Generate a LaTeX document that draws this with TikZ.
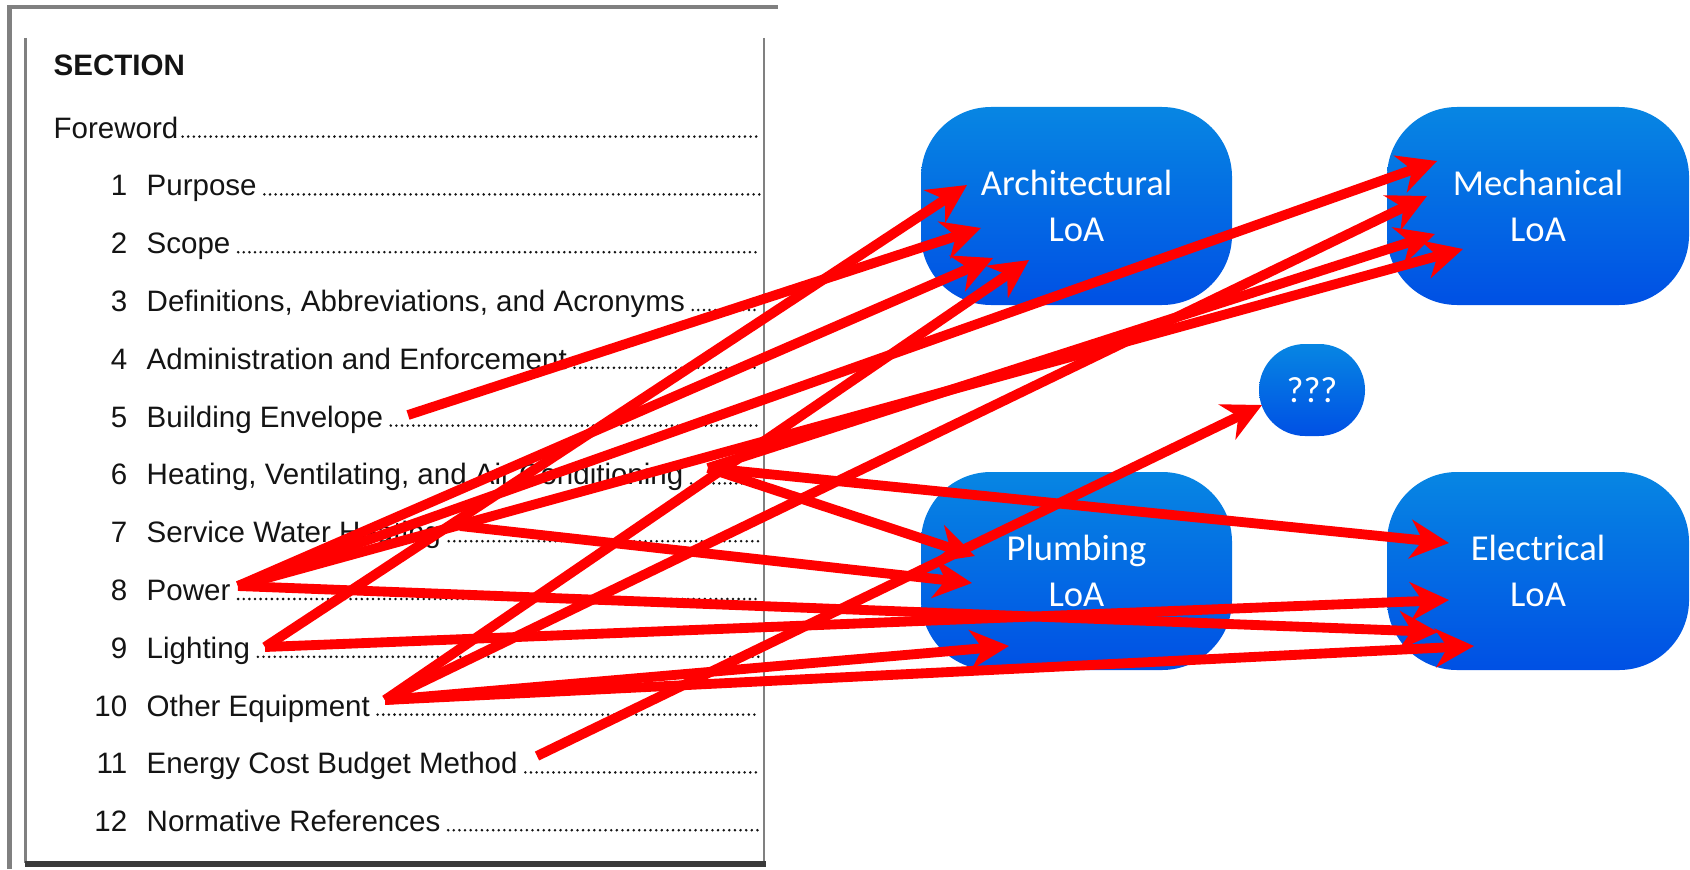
\documentclass[tikz,border=0pt]{standalone}
\usepackage{fontspec}
\setmainfont{Liberation Sans}
\newfontfamily\loafont{Carlito}
\usetikzlibrary{arrows.meta,calc}
\definecolor{loatop}{HTML}{0786E3}
\definecolor{loabot}{HTML}{0050E4}
\definecolor{mapred}{HTML}{FF0000}
\definecolor{pagegray}{HTML}{808080}
\definecolor{pageshade}{HTML}{3A3A3A}
\definecolor{inkgray}{HTML}{141414}
\tikzset{
  loa/.style={rounded corners=0.7cm,top color=loatop,bottom color=loabot,draw=none,text=white,align=center,font=\loafont\fontsize{10.4}{13}\selectfont,minimum height=1.98cm,inner sep=0pt},
  loaw/.style={loa,minimum width=3.11cm},
  loan/.style={loa,minimum width=3.02cm},
  toc/.style={anchor=base west,inner sep=0pt,text=inkgray,font=\fontsize{8.4}{10}\selectfont},
  tocnum/.style={toc,anchor=base east},
  leader/.style={draw=inkgray,line width=0.8pt,line cap=round,dash pattern=on 0pt off 1.6pt},
  map/.style={draw=mapred,line width=2.8pt,-{Stealth[length=11pt,width=11pt,inset=3.5pt]}},
}

\begin{document}
\begin{tikzpicture}
  \useasboundingbox (0,0) rectangle (16.90,-8.69);
  % page of the standard
  \draw[pagegray,line width=1.3pt] (0.095,-8.69) |- (7.78,-0.07);
  \draw[pagegray,line width=0.6pt] (0.255,-0.38) -- (0.255,-8.63);
  \draw[pagegray,line width=0.8pt] (7.64,-0.38) -- (7.64,-8.63);
  \fill[pageshade] (0.25,-8.61) rectangle (7.66,-8.67);
  \coordinate (rim) at (7.60,0);

  \node[toc,font=\fontsize{8.4}{10}\selectfont\bfseries] (sec) at (0.53,-0.76) {SECTION};
  \node[toc] (fw) at (0.53,-1.38) {Foreword};
  \draw[leader] ([xshift=1pt,yshift=0.4pt]fw.base east) -- ([yshift=0.4pt]fw.base east -| rim);
  \foreach \n/\t in {1/Purpose,2/Scope,3/{Definitions, Abbreviations, and Acronyms},4/Administration and Enforcement,
      5/Building Envelope,6/{Heating, Ventilating, and Air Conditioning},7/Service Water Heating,8/Power,9/Lighting,
      10/Other Equipment,11/Energy Cost Budget Method,12/Normative References}{
    \node[tocnum] (n\n) at (1.28,{-1.38-0.578*\n}) {\n};
    \node[toc] (t\n) at (1.46,{-1.38-0.578*\n}) {\t};
    \draw[leader] ([xshift=2pt,yshift=0.4pt]t\n.base east) -- ([yshift=0.4pt]t\n.base east -| rim);
  }

  % LoA boxes
  \node[loaw] (arch) at (10.765,-2.06) {Architectural\\LoA};
  \node[loan] (mech) at (15.38,-2.06) {Mechanical\\LoA};
  \node[loaw] (plumb) at (10.765,-5.71) {Plumbing\\LoA};
  \node[loan] (elec) at (15.38,-5.71) {Electrical\\LoA};
  \node[loa,minimum width=1.06cm,minimum height=0.92cm,rounded corners=0.46cm] (unk) at (13.12,-3.90) {???};

  % where the arrows leave the contents
  \coordinate (s5) at (4.08,-4.15);
  \coordinate (s6) at (7.08,-4.68);
  \coordinate (s7) at (4.60,-5.26);
  \coordinate (s8) at (2.38,-5.86);
  \coordinate (s9) at (2.65,-6.47);
  \coordinate (s10) at (3.85,-7.00);
  \coordinate (s11) at (5.37,-7.56);
  % where they land
  \coordinate (a1) at ($(arch)+(-1.095,0.21)$);
  \coordinate (a2) at ($(arch)+(-0.955,-0.22)$);
  \coordinate (a3) at ($(arch)+(-0.835,-0.52)$);
  \coordinate (a4) at ($(arch)+(-0.475,-0.54)$);
  \coordinate (m1) at ($(mech)+(-1.01,0.45)$);
  \coordinate (m2) at ($(mech)+(-1.11,0.10)$);
  \coordinate (m3) at ($(mech)+(-1.03,-0.28)$);
  \coordinate (m4) at ($(mech)+(-0.75,-0.43)$);
  \coordinate (p1) at ($(plumb)+(-1.015,0.15)$);
  \coordinate (p2) at ($(plumb)+(-1.045,-0.12)$);
  \coordinate (p3) at ($(plumb)+(-0.675,-0.75)$);
  \coordinate (e1) at ($(elec)+(-0.89,0.28)$);
  \coordinate (e2) at ($(elec)+(-0.89,-0.29)$);
  \coordinate (e3) at ($(elec)+(-1.00,-0.61)$);
  \coordinate (e4) at ($(elec)+(-0.64,-0.75)$);
  \coordinate (q1) at ($(unk)+(-0.50,-0.15)$);

  \foreach \s/\e in {s5/a2,s6/m3,s6/p1,s6/e1,s7/p2,s8/a3,s8/m1,s8/m4,s8/e3,
      s9/a1,s9/e2,s10/a4,s10/m2,s10/p3,s10/e4,s11/q1}
    \draw[map] (\s) -- (\e);
\end{tikzpicture}
\end{document}
